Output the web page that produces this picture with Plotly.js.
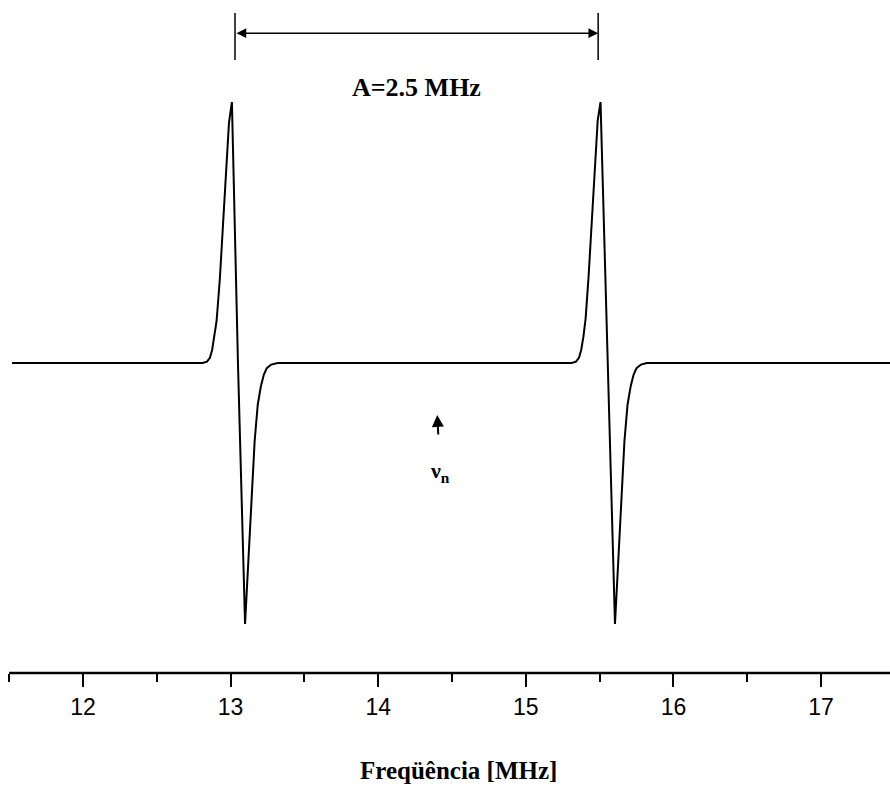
<!DOCTYPE html>
<html>
<head>
<meta charset="utf-8">
<script src="https://cdn.plot.ly/plotly-3.0.1.min.js"></script>
<style>html,body{margin:0;padding:0;background:#fff;}#chart{width:890px;height:790px;}</style>
</head>
<body>
<div id="chart"></div>
<script>
// Spectrum (frequency in MHz, signal in arbitrary units)
const freqMHz = [
  11.52, 12.60, 12.81, 12.84, 12.86, 12.875, 12.89, 12.905, 12.927, 12.948, 12.968, 12.989, 13.009,
  13.05, 13.098, 13.122, 13.143, 13.163, 13.184, 13.205, 13.225, 13.245, 13.275, 13.32,
  15.31, 15.34, 15.36, 15.375, 15.39, 15.405, 15.425, 15.446, 15.466, 15.487, 15.506,
  15.555, 15.604, 15.627, 15.648, 15.668, 15.689, 15.71, 15.73, 15.75, 15.78, 15.82, 17.47
];
const signal = [
  0, 0, 0, 0.005, 0.02, 0.05, 0.10, 0.16, 0.32, 0.54, 0.74, 0.92, 1.0,
  0.0, -1.0, -0.76, -0.53, -0.30, -0.16, -0.09, -0.045, -0.02, -0.006, 0,
  0, 0.005, 0.02, 0.05, 0.10, 0.17, 0.33, 0.55, 0.75, 0.93, 1.0,
  0.0, -1.0, -0.75, -0.52, -0.30, -0.16, -0.09, -0.045, -0.02, -0.006, 0, 0
];
const tickValues = [12, 13, 14, 15, 16, 17];
const tickLabels = ['12', '13', '14', '15', '16', '17'];
const splittingMarks = [13.03, 15.49];
const splittingLabel = 'A=2.5 MHz';
const larmorFreq = 14.4;
const larmorLabel = 'ν<sub>n</sub>';
const xTitle = 'Freqüência [MHz]';

const trace = {
  x: freqMHz, y: signal, type: 'scatter', mode: 'lines',
  line: {color: '#000', width: 2}, hoverinfo: 'skip', showlegend: false
};

const serif = 'Liberation Serif, Times New Roman, serif';
const markTop = 1.341, markBot = 1.161, markArrowY = 1.264;

const layout = {
  width: 890, height: 790,
  margin: {l: 0, r: 0, t: 0, b: 117},
  paper_bgcolor: '#fff', plot_bgcolor: '#fff',
  showlegend: false,
  xaxis: {
    range: [11.438, 17.467],
    tickvals: tickValues, ticktext: tickLabels,
    ticks: 'outside', ticklen: 13, tickwidth: 2, tickcolor: '#000',
    tickfont: {family: 'Liberation Sans, Arial, sans-serif', size: 23, color: '#000'},
    ticklabelstandoff: 0,
    showgrid: false, zeroline: false, showline: false,
    minor: {dtick: 0.5, tick0: 11.5, ticks: 'outside', ticklen: 8, tickwidth: 2, tickcolor: '#000', showgrid: false},
    fixedrange: true
  },
  yaxis: {visible: false, range: [-1.188, 1.391], fixedrange: true},
  shapes: [
    {type: 'line', xref: 'x', yref: 'paper', x0: 11.5, x1: 17.467, y0: 0, y1: 0, line: {color: '#000', width: 2.5}},
    {type: 'line', xref: 'x', yref: 'y', x0: splittingMarks[0], x1: splittingMarks[0], y0: markBot, y1: markTop, line: {color: '#000', width: 1.5}},
    {type: 'line', xref: 'x', yref: 'y', x0: splittingMarks[1], x1: splittingMarks[1], y0: markBot, y1: markTop, line: {color: '#000', width: 1.5}}
  ],
  annotations: [
    {x: splittingMarks[1], y: markArrowY, xref: 'x', yref: 'y', ax: splittingMarks[0], ay: markArrowY, axref: 'x', ayref: 'y',
     text: '', showarrow: true, arrowside: 'end+start', arrowhead: 2, startarrowhead: 2, arrowsize: 1.3, startarrowsize: 1.3, arrowwidth: 1.5, arrowcolor: '#000'},
    {x: (splittingMarks[0] + splittingMarks[1]) / 2, y: 1.057, xref: 'x', yref: 'y', text: '<b>' + splittingLabel + '</b>', showarrow: false,
     font: {family: serif, size: 26, color: '#000'}},
    {x: larmorFreq, y: -0.199, xref: 'x', yref: 'y', ax: 3, ay: 57, text: '<b>' + larmorLabel + '</b>', showarrow: true,
     arrowhead: 2, arrowsize: 1.2, arrowwidth: 2, arrowcolor: '#000', startstandoff: 22,
     font: {family: serif, size: 22, color: '#000'}},
    {x: 0.515, y: -0.1456, xref: 'paper', yref: 'paper', xanchor: 'center', yanchor: 'middle', text: '<b>' + xTitle + '</b>', showarrow: false,
     font: {family: serif, size: 25, color: '#000'}}
  ]
};

Plotly.newPlot('chart', [trace], layout, {displayModeBar: false, staticPlot: true});
</script>
</body>
</html>
